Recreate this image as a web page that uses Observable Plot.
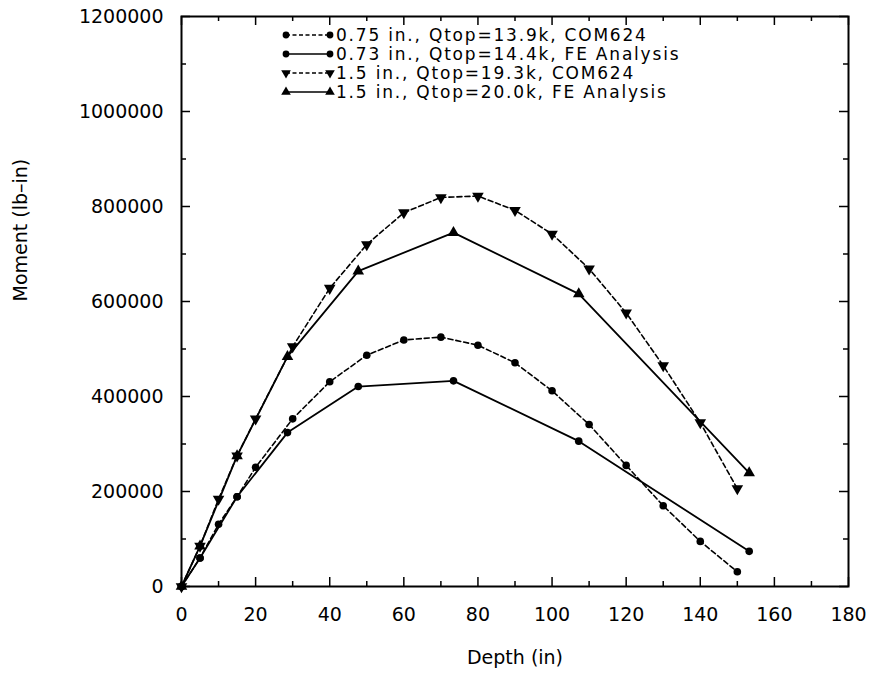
<!DOCTYPE html>
<html>
<head>
<meta charset="utf-8">
<script src="https://cdn.jsdelivr.net/npm/d3@7"></script>
<script src="https://cdn.jsdelivr.net/npm/@observablehq/plot@0.6"></script>
<style>
html, body { margin: 0; padding: 0; background: #fff; }
#chart { position: relative; width: 872px; height: 681px; }
</style>
</head>
<body>
<div id="chart"></div>
<script>
// ---- data ----
const depthCOM = [0, 5, 10, 15, 20, 30, 40, 50, 60, 70, 80, 90, 100, 110, 120, 130, 140, 150];
const momentCOM075 = [0, 60000, 131000, 189000, 251000, 353000, 431000, 487000, 519000, 525000, 508000, 471000, 412000, 341000, 255000, 170000, 95000, 31000];
const momentCOM150 = [0, 85000, 184000, 275000, 353000, 505000, 628000, 720000, 787000, 819000, 822000, 792000, 742000, 669000, 576000, 465000, 345000, 206000];
const depthFE = [0, 5, 15, 28.6, 47.7, 73.4, 107.2, 153.2];
const momentFE073 = [0, 60000, 189000, 324000, 421000, 433000, 306000, 74000];
const momentFE150 = [0, 85000, 275000, 484000, 664000, 745000, 616000, 239000];

const seriesNames = [
  "0.75 in., Qtop=13.9k, COM624",
  "0.73 in., Qtop=14.4k, FE Analysis",
  "1.5 in., Qtop=19.3k, COM624",
  "1.5 in., Qtop=20.0k, FE Analysis"
];
const seriesDashed = [true, false, true, false];
const seriesSymbol = ["circle", "circle", "down", "up"];

const xTicks = [0, 20, 40, 60, 80, 100, 120, 140, 160, 180];
const xMinor = [10, 30, 50, 70, 90, 110, 130, 150, 170];
const yTicks = [0, 200000, 400000, 600000, 800000, 1000000, 1200000];
const yMinor = [100000, 300000, 500000, 700000, 900000, 1100000];
const xLabel = "Depth (in)";
const yLabel = "Moment (lb\u2013in)";

// ---- layout ----
const W = 872, H = 681;
const mL = 181, mR = 24, mT = 16, mB = 95;
const iW = W - mL - mR, iH = H - mT - mB;
const FONT = "DejaVu Sans";
const MAJ = 9, MIN = 5;

const mk = (depths, vals, k) => depths.map((d, i) => ({depth: d, moment: vals[i], series: seriesNames[k]}));
const s1 = mk(depthCOM, momentCOM075, 0);
const s2 = mk(depthFE, momentFE073, 1);
const s3 = mk(depthCOM, momentCOM150, 2);
const s4 = mk(depthFE, momentFE150, 3);

const tickStyle = {stroke: "#000", strokeWidth: 1.5};

const plot = Plot.plot({
  width: W, height: H,
  marginLeft: mL, marginRight: mR, marginTop: mT, marginBottom: mB,
  style: {fontFamily: FONT, fontSize: "19px", background: "#fff", color: "#000"},
  x: {domain: [0, 180]},
  y: {domain: [0, 1200000]},
  marks: [
    Plot.axisX({ticks: xTicks, tickSize: 0, tickPadding: 21, tickFormat: d => String(d), label: null, fontSize: 19}),
    Plot.axisY({ticks: yTicks, tickSize: 0, tickPadding: 18, tickFormat: d => String(d), label: null, fontSize: 19}),
    Plot.text([xLabel], {text: d => d, frameAnchor: "bottom", dy: 77, fontSize: 19, fill: "#000"}),
    Plot.text([yLabel], {text: d => d, frameAnchor: "left", dx: -161, rotate: -90, fontSize: 19, fill: "#000"}),
    // inward ticks on all four sides
    Plot.tickX(xTicks, {x: d => d, insetTop: iH - MAJ, ...tickStyle}),
    Plot.tickX(xTicks, {x: d => d, insetBottom: iH - MAJ, ...tickStyle}),
    Plot.tickX(xMinor, {x: d => d, insetTop: iH - MIN, ...tickStyle}),
    Plot.tickX(xMinor, {x: d => d, insetBottom: iH - MIN, ...tickStyle}),
    Plot.tickY(yTicks, {y: d => d, insetRight: iW - MAJ, ...tickStyle}),
    Plot.tickY(yTicks, {y: d => d, insetLeft: iW - MAJ, ...tickStyle}),
    Plot.tickY(yMinor, {y: d => d, insetRight: iW - MIN, ...tickStyle}),
    Plot.tickY(yMinor, {y: d => d, insetLeft: iW - MIN, ...tickStyle}),
    // series lines
    Plot.line(s1, {x: "depth", y: "moment", stroke: "#000", strokeWidth: 1.6, strokeDasharray: "5,3"}),
    Plot.line(s2, {x: "depth", y: "moment", stroke: "#000", strokeWidth: 1.8}),
    Plot.line(s3, {x: "depth", y: "moment", stroke: "#000", strokeWidth: 1.6, strokeDasharray: "5,3"}),
    Plot.line(s4, {x: "depth", y: "moment", stroke: "#000", strokeWidth: 1.8}),
    // markers
    Plot.dot(s1, {x: "depth", y: "moment", r: 3.8, fill: "#000", symbol: "circle"}),
    Plot.dot(s2, {x: "depth", y: "moment", r: 3.8, fill: "#000", symbol: "circle"}),
    Plot.dot(s3, {x: "depth", y: "moment", r: 4.3, fill: "#000", symbol: "triangle", rotate: 180}),
    Plot.dot(s4, {x: "depth", y: "moment", r: 4.3, fill: "#000", symbol: "triangle"}),
    Plot.frame({stroke: "#000", strokeWidth: 2})
  ]
});

document.getElementById("chart").appendChild(plot);

// ---- in-plot legend ----
const svg = d3.select(plot);
const lg = svg.append("g").attr("class", "legend").attr("text-anchor", "start");
const rowY = [35, 54, 73, 92];
const lx0 = 286, lx1 = 330, tx = 336;
const tri = d3.symbol().type(d3.symbolTriangle).size(40);
const circ = d3.symbol().type(d3.symbolCircle).size(36);
seriesNames.forEach((name, i) => {
  const y = rowY[i];
  lg.append("line").attr("x1", lx0).attr("x2", lx1).attr("y1", y).attr("y2", y)
    .attr("stroke", "#000").attr("stroke-width", 1.5)
    .attr("stroke-dasharray", seriesDashed[i] ? "4,2.5" : null);
  [lx0, lx1].forEach(x => {
    const sym = seriesSymbol[i];
    lg.append("path")
      .attr("d", sym === "circle" ? circ() : tri())
      .attr("transform", `translate(${x},${y})` + (sym === "down" ? " rotate(180)" : ""))
      .attr("fill", "#000");
  });
  lg.append("text").attr("x", tx).attr("y", y).attr("dy", "0.36em")
    .attr("text-anchor", "start")
    .attr("font-family", FONT).attr("font-size", 17).attr("letter-spacing", "1.8px")
    .attr("fill", "#000").text(name);
});
</script>
</body>
</html>
